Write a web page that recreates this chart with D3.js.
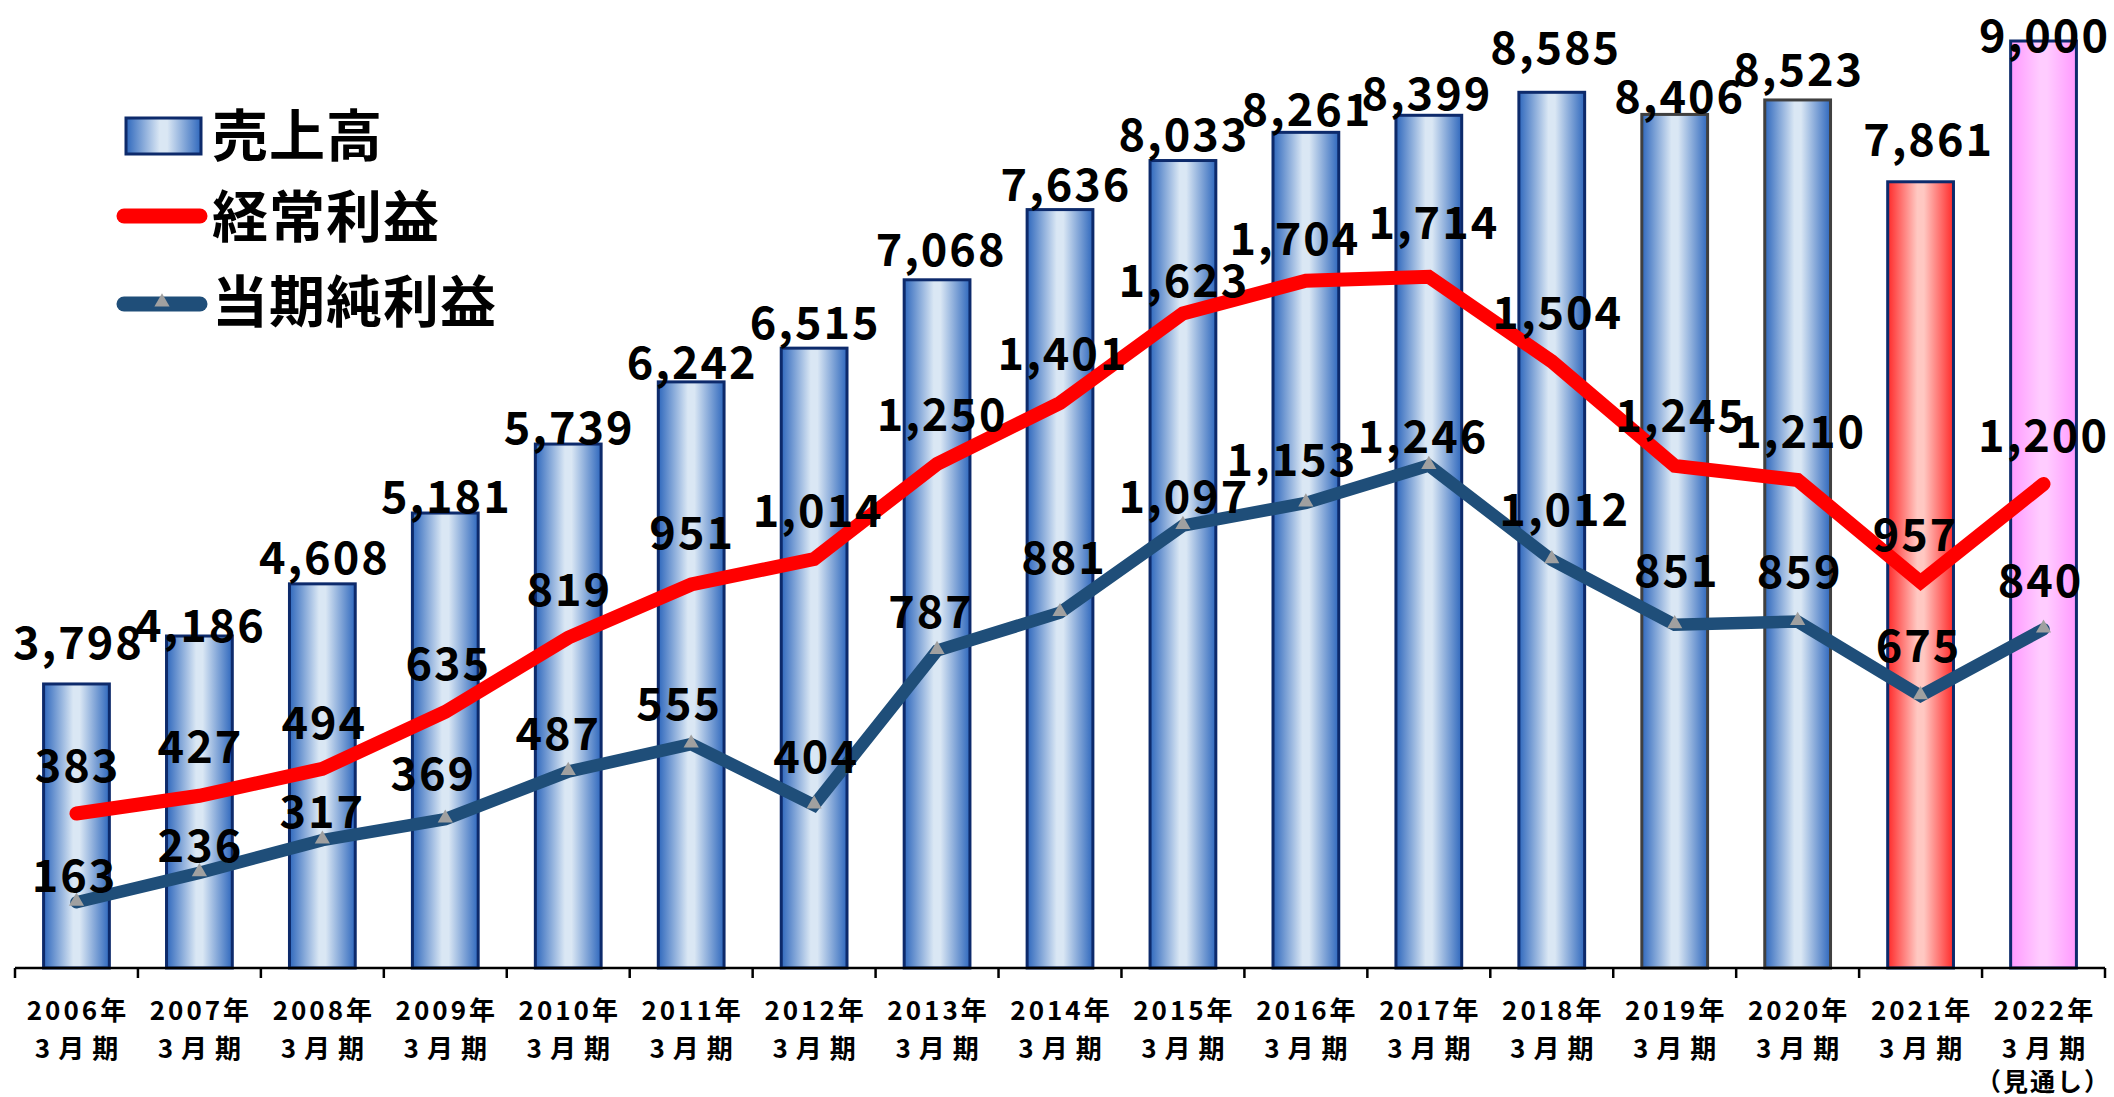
<!DOCTYPE html>
<html><head><meta charset="utf-8">
<script src="https://cdn.jsdelivr.net/npm/d3@7"></script>
<style>
html,body{margin:0;padding:0;background:#fff;}
svg{display:block;}
text{font-family:"Noto Sans CJK JP","Noto Sans",sans-serif;fill:#000;}
</style></head>
<body>
<script>
// ---- data ----
const years = ["2006年","2007年","2008年","2009年","2010年","2011年","2012年","2013年","2014年","2015年","2016年","2017年","2018年","2019年","2020年","2021年","2022年"];
const periodLabel = "3月期";
const forecastNote = "（見通し）";
const sales = [3798,4186,4608,5181,5739,6242,6515,7068,7636,8033,8261,8399,8585,8406,8523,7861,9000];
const ordinaryProfit = [383,427,494,635,819,951,1014,1250,1401,1623,1704,1714,1504,1245,1210,957,1200];
const netProfit = [163,236,317,369,487,555,404,787,881,1097,1153,1246,1012,851,859,675,840];
const seriesNames = ["売上高","経常利益","当期純利益"];

// label nudges (pixels), like manually placed labels
const salesLabelDx = [1,0,1,0,0,0,0,3,5,0,0,-3,3,4,0,7,0];
const salesLabelDy = [-44,-14,-29,-20,-20,-22,-29,-33,-28,-29,-26,-25,-48,-21,-33,-45,-9];
const ordLabelDx = [0,0,1,2,0,0,3,4,2,0,-12,4,5,5,2,-6,-1];
const ordLabelDy = [-51,-52,-49,-51,-51,-55,-52,-52,-52,-36,-45,-57,-52,-53,-52,-51,-52];
const netLabelDx = [-3,0,-1,-13,-11,-13,1,-7,3,0,-15,-7,12,1,1,-3,-4];
const netLabelDy = [-30,-30,-32,-49,-41,-44,-52,-42,-58,-32,-46,-32,-53,-57,-53,-53,-52];

// ---- layout ----
const W = 2114, H = 1097;
const left = 15, right = 2105, baseY = 968;

const svg = d3.select("body").append("svg").attr("width", W).attr("height", H);
const defs = svg.append("defs");

function hGrad(id, edge, mid) {
  const g = defs.append("linearGradient").attr("id", id).attr("x1","0%").attr("x2","100%").attr("y1","0%").attr("y2","0%");
  g.append("stop").attr("offset","0%").attr("stop-color", edge);
  g.append("stop").attr("offset","45%").attr("stop-color", mid);
  g.append("stop").attr("offset","55%").attr("stop-color", mid);
  g.append("stop").attr("offset","100%").attr("stop-color", edge);
}
hGrad("gBlue", "#2f68bd", "#dae7f4");
hGrad("gRed", "#ff2a2a", "#ffc8c2");
hGrad("gPink", "#ff99ff", "#ffccff");

const x = d3.scaleBand().domain(years).range([left, right]).paddingInner(0.465).paddingOuter(0.2325);
const xc = d => x(d) + x.bandwidth() / 2;
const yBar = d3.scaleLinear().domain([1500, 9000]).range([baseY, 41]);
const yLine = d3.scaleLinear().domain([0, 2400]).range([baseY, baseY - 2400 * 0.4033]);

const fills = years.map((d, i) => i === 15 ? "url(#gRed)" : i === 16 ? "url(#gPink)" : "url(#gBlue)");
const strokes = years.map((d, i) => (i === 13 || i === 14) ? "#404040" : "#0d2a6b");

// bars
svg.append("g").selectAll("rect").data(sales).join("rect")
  .attr("x", (d, i) => x(years[i]))
  .attr("y", d => yBar(d))
  .attr("width", x.bandwidth())
  .attr("height", d => baseY - yBar(d))
  .attr("fill", (d, i) => fills[i])
  .attr("stroke", (d, i) => strokes[i])
  .attr("stroke-width", 3);

// axis
const step = (right - left) / years.length;
const axisG = svg.append("g");
axisG.append("line").attr("x1", left).attr("x2", right).attr("y1", baseY).attr("y2", baseY)
  .attr("stroke", "#000").attr("stroke-width", 2.5);
axisG.selectAll("line.tick").data(d3.range(years.length + 1)).join("line").attr("class","tick")
  .attr("x1", k => left + k * step).attr("x2", k => left + k * step)
  .attr("y1", baseY).attr("y2", baseY + 10).attr("stroke", "#000").attr("stroke-width", 2.5);

const xl = axisG.selectAll("g.xl").data(years).join("g").attr("class","xl")
  .attr("transform", d => `translate(${xc(d)},0)`);
xl.append("text").attr("y", 1008).attr("dominant-baseline","central").attr("text-anchor","middle")
  .attr("font-size", 26).attr("font-weight", 700).attr("letter-spacing", 3).attr("dx", 1.5)
  .text(d => d);
xl.append("text").attr("y", 1046).attr("dominant-baseline","central").attr("text-anchor","middle")
  .attr("font-size", 26).attr("font-weight", 700).attr("letter-spacing", 8).attr("dx", 4)
  .text(periodLabel);
axisG.append("text").attr("x", xc(years[16])).attr("y", 1080).attr("dominant-baseline","central")
  .attr("text-anchor","middle").attr("font-size", 25).attr("font-weight", 700).attr("letter-spacing", 2)
  .text(forecastNote);

// lines
const line = yS => d3.line().x((d, i) => xc(years[i])).y(d => yS(d));
svg.append("path").datum(ordinaryProfit).attr("d", line(yLine))
  .attr("fill","none").attr("stroke","#ff0000").attr("stroke-width", 14)
  .attr("stroke-linecap","round").attr("stroke-linejoin","miter");
svg.append("path").datum(netProfit).attr("d", line(yLine))
  .attr("fill","none").attr("stroke","#1f4e79").attr("stroke-width", 12.5)
  .attr("stroke-linecap","round").attr("stroke-linejoin","miter");
const tri = d3.symbol().type(d3.symbolTriangle).size(100);
svg.append("g").selectAll("path").data(netProfit).join("path")
  .attr("d", tri)
  .attr("transform", (d, i) => `translate(${xc(years[i])},${yLine(d) - 1})`)
  .attr("fill", "#a0a0a0");

// data labels
const fmt = d3.format(",");
function labels(vals, yS, dxs, dys) {
  svg.append("g").selectAll("text").data(vals).join("text")
    .attr("x", (d, i) => xc(years[i]) + dxs[i] + 1)
    .attr("y", (d, i) => yS(d) + dys[i])
    .attr("dominant-baseline","central").attr("text-anchor","middle")
    .attr("font-size", 45).attr("font-weight", 700).attr("letter-spacing", 2)
    .text(d => fmt(d));
}
labels(sales, yBar, salesLabelDx, salesLabelDy);
labels(ordinaryProfit, yLine, ordLabelDx, ordLabelDy);
labels(netProfit, yLine, netLabelDx, netLabelDy);

// legend
const lg = svg.append("g");
lg.append("rect").attr("x", 126).attr("y", 118).attr("width", 75).attr("height", 36)
  .attr("fill","url(#gBlue)").attr("stroke","#0d2a6b").attr("stroke-width", 3);
lg.append("line").attr("x1", 124).attr("x2", 200).attr("y1", 216).attr("y2", 216)
  .attr("stroke","#ff0000").attr("stroke-width", 15).attr("stroke-linecap","round");
lg.append("line").attr("x1", 124).attr("x2", 200).attr("y1", 304).attr("y2", 304)
  .attr("stroke","#1f4e79").attr("stroke-width", 15).attr("stroke-linecap","round");
lg.append("path").attr("d", tri).attr("transform","translate(162,302)").attr("fill","#a0a0a0");
lg.selectAll("text").data(seriesNames).join("text")
  .attr("x", 212).attr("y", (d, i) => [131, 212, 297][i])
  .attr("dominant-baseline","central").attr("font-size", 56).attr("font-weight", 700)
  .attr("letter-spacing", 1)
  .text(d => d);
</script>
</body></html>
